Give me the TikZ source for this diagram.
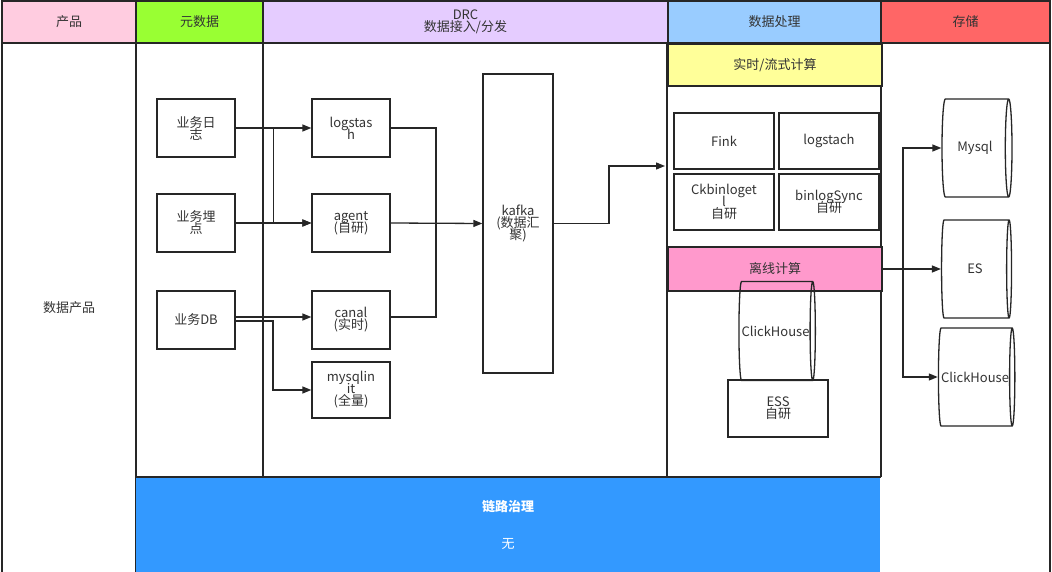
\documentclass[tikz,border=0pt]{standalone}
\usepackage{fontspec}
\setmainfont{Noto Sans CJK SC}
\usetikzlibrary{shapes.geometric,arrows.meta,calc}
\definecolor{tx}{HTML}{333333}
\definecolor{cpink}{HTML}{FFCCE0}
\definecolor{cgreen}{HTML}{99FF33}
\definecolor{clav}{HTML}{E5CCFF}
\definecolor{cblue}{HTML}{99CCFF}
\definecolor{cred}{HTML}{FF6666}
\definecolor{cbar}{HTML}{3399FF}
\definecolor{cyel}{HTML}{FFFF99}
\definecolor{cmag}{HTML}{FF99CC}
\begin{document}
\begin{tikzpicture}[x=1pt,y=-1pt,line width=1.3pt,
  lbl/.style={font=\fontsize{13}{15}\selectfont,text=tx,align=center},
  box/.style={draw=black!85,lbl,inner sep=0},
  cyl/.style={draw=black!85,lbl,cylinder,aspect=0.5,inner sep=0},
  ar/.style={draw=black!85,-{Triangle[length=9pt,width=7pt]}},
  hd/.style={draw=black!85,lbl,inner sep=0}]
\useasboundingbox (0,0) rectangle (1052,572);
\fill[white] (0,0) rectangle (1052,572);
% header
\node[hd,fill=cpink,minimum width=134pt,minimum height=42pt] (h1) at (69,22) {产品};
\node[hd,fill=cgreen,minimum width=127pt,minimum height=42pt] (h2) at (199.5,22) {元数据};
\node[hd,fill=clav,minimum width=405pt,minimum height=42pt] (h3) at (465.5,22) {DRC\\[-3pt]数据接入/分发};
\node[hd,fill=cblue,minimum width=213pt,minimum height=42pt] (h4) at (774.5,22) {数据处理};
\node[hd,fill=cred,minimum width=169pt,minimum height=42pt] (h5) at (965.5,22) {存储};
% frame
\draw[black!85] (2,43) -- (2,572) (1050,43) -- (1050,572);
\draw[black!85] (136,43) -- (136,572);
\draw[black!85] (263,43) -- (263,477) (667,43) -- (667,477) (881,43) -- (881,477);
\draw[black!85] (136,477) -- (881,477);
\node[lbl] (prod) at (69,308) {数据产品};
% bottom bar
\fill[cbar] (136,478) rectangle (880,572);
\node[lbl,text=white,font=\bfseries\fontsize{13}{15}\selectfont] (gov) at (508,507) {链路治理};
\node[lbl,text=white] (wu) at (508,544) {无};
% sources
\node[box,minimum width=78pt,minimum height=58pt] (s1) at (196,128) {业务日\\[-3pt]志};
\node[box,minimum width=78pt,minimum height=58pt] (s2) at (196,223) {业务埋\\[-3pt]点};
\node[box,minimum width=78pt,minimum height=58pt] (s3) at (196,320) {业务DB};
% collectors
\node[box,minimum width=78pt,minimum height=58pt] (c1) at (351,128) {logstas\\[-3pt]h};
\node[box,minimum width=78pt,minimum height=58pt] (c2) at (351,223) {agent\\[-3pt](自研)};
\node[box,minimum width=78pt,minimum height=58pt] (c3) at (351,320) {canal\\[-3pt](实时)};
\node[box,minimum width=78pt,minimum height=56pt] (c4) at (351,390) {mysqlin\\[-3pt]it\\[-3pt](全量)};
\node[box,minimum width=70pt,minimum height=299pt] (kafka) at (518,223.5) {kafka\\[-3pt](数据汇\\[-3pt]聚)};
% processing
\node[hd,fill=cyel,minimum width=214pt,minimum height=42pt] (rt) at (775,65) {实时/流式计算};
\node[box,minimum width=100pt,minimum height=56pt] (p1) at (724,141) {Fink};
\node[box,minimum width=100pt,minimum height=56pt] (p2) at (829,141) {logstach};
\node[box,minimum width=100pt,minimum height=56pt] (p3) at (724,202) {Ckbinloget\\[-3pt]l\\[-3pt]自研};
\node[box,minimum width=100pt,minimum height=56pt] (p4) at (829,202) {binlogSync\\[-3pt]自研};
\node[hd,fill=cmag,minimum width=214pt,minimum height=44pt] (off) at (775,269) {离线计算};
\node[cyl,minimum width=99pt,minimum height=70pt] (ck1) at (775.5,331) {ClickHouse};
\node[box,minimum width=100pt,minimum height=57pt] (ess) at (778,408.5) {ESS\\[-3pt]自研};
\coordinate (pin) at (665,166);
% storage
\node[cyl,minimum width=98pt,minimum height=70pt] (st1) at (975,148) {Mysql};
\node[cyl,minimum width=98pt,minimum height=70pt] (st2) at (975,269) {ES};
\node[cyl,minimum width=98pt,minimum height=70pt] (st3) at (975,377) {ClickHouse};
% arrows
\draw[ar] (s1.east) -- (c1.west);
\draw[ar] ($(s1.east)+(38,0)$) -- ++(0,95) -- (c2.west);
\draw[ar] (s2.east) -- (c2.west);
\draw[ar] ($(s3.east)+(0,-3)$) -- ($(c3.west)+(0,-3)$);
\draw[ar] ($(s3.east)+(0,1)$) -| (273,390) -- (c4.west);
\draw[black!85] (c1.east) -| (436,223);
\draw[black!85] ($(c3.east)+(0,-3)$) -| (436,223);
\draw[ar] (c2.east) -- (kafka.west);
\draw[ar] (kafka.east) -| (609,166) -- (pin);
\draw[ar] (off.east) -- (st2.west);
\draw[ar] (903,269) |- (st1.west);
\draw[ar] (903,269) |- (st3.west);
\end{tikzpicture}
\end{document}
